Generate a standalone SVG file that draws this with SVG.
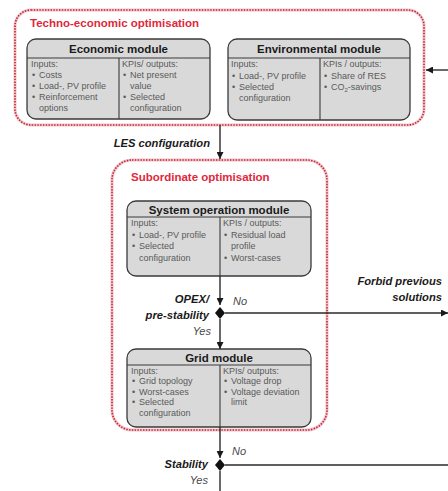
<svg xmlns="http://www.w3.org/2000/svg" width="448" height="491" viewBox="0 0 448 491">
  <defs>
    <marker id="arrow" viewBox="0 0 8 8" refX="8" refY="4" markerWidth="7" markerHeight="7" markerUnits="userSpaceOnUse" orient="auto">
      <path d="M0,0 L8,4 L0,8 Z" fill="#1a1a1a"/>
    </marker>
  </defs>
  <style>
    .halo { fill: none; stroke: #f2c4c8; stroke-width: 3; }
    .dotted { fill: none; stroke: #c0263a; stroke-width: 1.6; stroke-dasharray: 1.4 1.4; }
    .group-title { font-family: "Liberation Sans", Arial, sans-serif; font-weight: bold; fill: #e0283c; }
    .box { fill: #d9d9d9; stroke: #3a3a3a; stroke-width: 1.3; }
    .sep { stroke: #3a3a3a; stroke-width: 1.1; }
    .title { font-family: "Liberation Sans", Arial, sans-serif; font-weight: bold; font-size: 11.5px; fill: #1a1a1a; text-anchor: middle; }
    .body { font-family: "Liberation Sans", Arial, sans-serif; font-size: 9px; fill: #5a5a5a; }
    .label { font-family: "Liberation Sans", Arial, sans-serif; font-weight: bold; font-style: italic; font-size: 11.2px; fill: #1a1a1a; }
    .yn { font-family: "Liberation Sans", Arial, sans-serif; font-style: italic; font-size: 11px; fill: #4a4a4a; }
    .wire { fill: none; stroke: #2a2a2a; stroke-width: 1.4; }
    .diamond { fill: #111; }
  </style>

  <!-- Techno-economic optimisation container -->
  <g id="techno-economic">
    <rect class="halo" x="15" y="10" width="409" height="115" rx="16"/>
    <rect class="dotted" x="15" y="10" width="409" height="115" rx="16"/>
    <text class="group-title" x="30" y="27" font-size="11.5">Techno-economic optimisation</text>
  </g>

  <!-- Economic module -->
  <g id="economic-module">
    <rect class="box" x="27" y="39" width="183" height="80" rx="9"/>
    <line class="sep" x1="27" y1="58" x2="210" y2="58"/>
    <line class="sep" x1="119" y1="58" x2="119" y2="119"/>
    <text class="title" x="118.5" y="53">Economic module</text>
    <text class="body" x="31" y="67">Inputs:</text>
    <text class="body" x="32" y="78">•</text><text class="body" x="39" y="78">Costs</text>
    <text class="body" x="32" y="89">•</text><text class="body" x="39" y="89">Load-, PV profile</text>
    <text class="body" x="32" y="100">•</text><text class="body" x="39" y="100">Reinforcement</text>
    <text class="body" x="39" y="111">options</text>
    <text class="body" x="122" y="67">KPIs/ outputs:</text>
    <text class="body" x="123" y="78">•</text><text class="body" x="130" y="78">Net present</text>
    <text class="body" x="130" y="89">value</text>
    <text class="body" x="123" y="100">•</text><text class="body" x="130" y="100">Selected</text>
    <text class="body" x="130" y="111">configuration</text>
  </g>

  <!-- Environmental module -->
  <g id="environmental-module">
    <rect class="box" x="228" y="39" width="182" height="81" rx="9"/>
    <line class="sep" x1="228" y1="58" x2="410" y2="58"/>
    <line class="sep" x1="320" y1="58" x2="320" y2="120"/>
    <text class="title" x="319" y="53">Environmental module</text>
    <text class="body" x="231" y="67">Inputs:</text>
    <text class="body" x="232" y="78.5">•</text><text class="body" x="239" y="78.5">Load-, PV profile</text>
    <text class="body" x="232" y="89.5">•</text><text class="body" x="239" y="89.5">Selected</text>
    <text class="body" x="239" y="100.5">configuration</text>
    <text class="body" x="323" y="67">KPIs / outputs:</text>
    <text class="body" x="324" y="78.5">•</text><text class="body" x="331" y="78.5">Share of RES</text>
    <text class="body" x="324" y="89.5">•</text><text class="body" x="331" y="89.5">CO<tspan font-size="6" dy="2">2</tspan><tspan dy="-2">-savings</tspan></text>
  </g>

  <!-- Subordinate optimisation container -->
  <g id="subordinate">
    <rect class="halo" x="112" y="160" width="215" height="270" rx="20"/>
    <rect class="dotted" x="112" y="160" width="215" height="270" rx="20"/>
    <text class="group-title" x="131" y="181" font-size="11.5">Subordinate optimisation</text>
  </g>

  <!-- System operation module -->
  <g id="system-operation-module">
    <rect class="box" x="127" y="201" width="184" height="75" rx="9"/>
    <line class="sep" x1="127" y1="217" x2="311" y2="217"/>
    <line class="sep" x1="220" y1="217" x2="220" y2="276"/>
    <text class="title" x="219" y="214">System operation module</text>
    <text class="body" x="131" y="226">Inputs:</text>
    <text class="body" x="132" y="237.5">•</text><text class="body" x="139" y="237.5">Load-, PV profile</text>
    <text class="body" x="132" y="249">•</text><text class="body" x="139" y="249">Selected</text>
    <text class="body" x="139" y="260.5">configuration</text>
    <text class="body" x="223" y="226">KPIs / outputs:</text>
    <text class="body" x="224" y="237.5">•</text><text class="body" x="231" y="237.5">Residual load</text>
    <text class="body" x="231" y="249">profile</text>
    <text class="body" x="224" y="260.5">•</text><text class="body" x="231" y="260.5">Worst-cases</text>
  </g>

  <!-- Grid module -->
  <g id="grid-module">
    <rect class="box" x="127" y="349" width="184" height="78" rx="9"/>
    <line class="sep" x1="127" y1="365" x2="311" y2="365"/>
    <line class="sep" x1="220" y1="365" x2="220" y2="427"/>
    <text class="title" x="219" y="362">Grid module</text>
    <text class="body" x="131" y="373.5">Inputs:</text>
    <text class="body" x="132" y="384">•</text><text class="body" x="139" y="384">Grid topology</text>
    <text class="body" x="132" y="394.5">•</text><text class="body" x="139" y="394.5">Worst-cases</text>
    <text class="body" x="132" y="405">•</text><text class="body" x="139" y="405">Selected</text>
    <text class="body" x="139" y="415.5">configuration</text>
    <text class="body" x="223" y="373.5">KPIs/ outputs:</text>
    <text class="body" x="224" y="384">•</text><text class="body" x="231" y="384">Voltage drop</text>
    <text class="body" x="224" y="394.5">•</text><text class="body" x="231" y="394.5">Voltage deviation</text>
    <text class="body" x="231" y="405">limit</text>
  </g>

  <!-- Decision points -->
  <g id="decision-opex">
    <path class="diamond" d="M220,307 L225,313 L220,319 L215,313 Z"/>
    <text class="label" x="209" y="303" text-anchor="end">OPEX/</text>
    <text class="label" x="209" y="319" text-anchor="end">pre-stability</text>
    <text class="yn" x="233" y="305">No</text>
    <text class="yn" x="211" y="335" text-anchor="end">Yes</text>
  </g>
  <g id="decision-stability">
    <path class="diamond" d="M220,459 L225,465 L220,471 L215,465 Z"/>
    <text class="label" x="208" y="468" text-anchor="end">Stability</text>
    <text class="yn" x="232" y="455">No</text>
    <text class="yn" x="208" y="484" text-anchor="end">Yes</text>
  </g>

  <!-- Connector labels -->
  <g id="labels">
    <text class="label" x="210" y="147" text-anchor="end">LES configuration</text>
    <text class="label" x="442" y="285" text-anchor="end">Forbid previous</text>
    <text class="label" x="442" y="301" text-anchor="end">solutions</text>
  </g>

  <!-- Connectors -->
  <g id="connectors">
    <line class="wire" x1="448" y1="70" x2="426" y2="70" marker-end="url(#arrow)"/>
    <line class="wire" x1="220" y1="125" x2="220" y2="159" marker-end="url(#arrow)"/>
    <line class="wire" x1="220" y1="276" x2="220" y2="305" marker-end="url(#arrow)"/>
    <line class="wire" x1="220" y1="319" x2="220" y2="349" marker-end="url(#arrow)"/>
    <line class="wire" x1="225" y1="313" x2="448" y2="313" marker-end="url(#arrow)"/>
    <line class="wire" x1="220" y1="427" x2="220" y2="458" marker-end="url(#arrow)"/>
    <line class="wire" x1="220" y1="471" x2="220" y2="491"/>
    <line class="wire" x1="225" y1="465" x2="448" y2="465"/>
  </g>
</svg>
